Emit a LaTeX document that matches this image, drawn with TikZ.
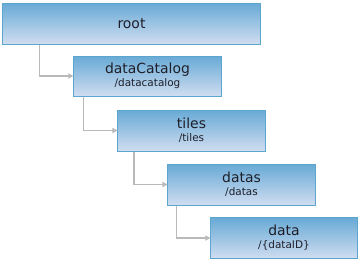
\documentclass[tikz,border=0pt]{standalone}
\usepackage{fontspec}
\setmainfont{DejaVu Sans}
\usetikzlibrary{arrows.meta}

\definecolor{boxtop}{RGB}{104,170,214}
\definecolor{boxbot}{RGB}{208,221,240}
\definecolor{boxline}{RGB}{92,166,206}
\definecolor{linkgray}{RGB}{185,185,185}
\definecolor{inkdark}{RGB}{30,30,40}

\newcommand{\ttl}[1]{{\fontsize{14}{14}\selectfont #1}}
\newcommand{\sub}[1]{{\fontsize{10.5}{12}\selectfont #1}}

\begin{document}
\begin{tikzpicture}[
    x=1bp, y=-1bp,
    box/.style={rectangle, draw=boxline, line width=1bp, top color=boxtop, bottom color=boxbot,
                minimum width=147bp, minimum height=41bp, inner sep=0pt, align=center,
                text=inkdark},
    link/.style={draw=linkgray, line width=1.5bp, -{Triangle[length=5bp,width=5bp]}},
]

% Page size
\useasboundingbox (0,0) rectangle (360,261);

% Boxes, one step down and right each time
\node[box, minimum width=257bp] (root) at (131.5,23.5) {\ttl{root}};
\node[box, minimum height=40bp] (cat) at (147.5,76) {\ttl{dataCatalog}\\[1bp]\sub{/datacatalog}};
\node[box] (tiles) at (191.5,130.5) {\ttl{tiles}\\[1bp]\sub{/tiles}};
\node[box] (datas) at (241.5,184.5) {\ttl{datas}\\[1bp]\sub{/datas}};
\node[box, minimum width=146bp] (data) at (284,238) {\ttl{data}\\[1bp]\sub{/\{dataID\}}};

% Links from parent to child
\draw[link] ([xshift=37bp]root.south west) |- (cat.west);
\draw[link] ([xshift=10bp]cat.south west) |- (tiles.west);
\draw[link] ([xshift=16.5bp]tiles.south west) |- (datas.west);
\draw[link] ([xshift=9bp]datas.south west) |- (data.west);

\end{tikzpicture}
\end{document}
